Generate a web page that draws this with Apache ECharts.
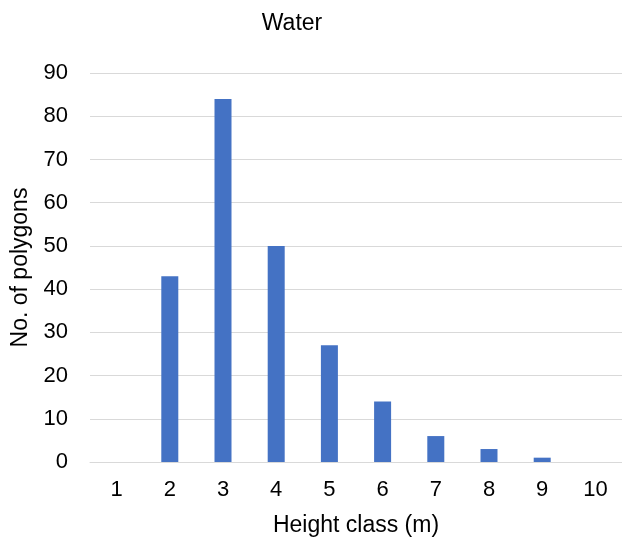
<!DOCTYPE html>
<html>
<head>
<meta charset="utf-8">
<script src="https://cdn.jsdelivr.net/npm/echarts@6/dist/echarts.min.js"></script>
<style>html,body{margin:0;padding:0;background:#fff;}#c{width:622px;height:544px;}</style>
</head>
<body>
<div id="c"></div>
<script>
var categories = ['1','2','3','4','5','6','7','8','9','10'];
var counts = [0, 43, 84, 50, 27, 14, 6, 3, 1, 0];
var chartTitle = 'Water';
var xName = 'Height class (m)';
var yName = 'No. of polygons';

var chart = echarts.init(document.getElementById('c'), null, {renderer: 'canvas'});
var font = 'Liberation Sans, Arial, sans-serif';
chart.setOption({
  animation: false,
  title: {
    text: chartTitle,
    left: 287, top: 7, textAlign: 'center',
    textStyle: {fontFamily: font, fontSize: 23, fontWeight: 'normal', color: '#000'}
  },
  grid: {left: 90, right: -4, top: 73, bottom: 82, containLabel: false},
  xAxis: {
    type: 'category',
    data: categories,
    name: xName,
    nameLocation: 'middle',
    nameGap: 64,
    nameTextStyle: {fontFamily: font, fontSize: 23, color: '#000', verticalAlign: 'middle'},
    axisLine: {show: true, lineStyle: {color: '#d9d9d9', width: 1}},
    axisTick: {show: false},
    axisLabel: {fontFamily: font, fontSize: 22, color: '#000', margin: 17}
  },
  yAxis: {
    type: 'value',
    min: 0, max: 90, interval: 10,
    name: yName,
    nameLocation: 'middle',
    nameGap: 68,
    nameTextStyle: {fontFamily: font, fontSize: 23, color: '#000', verticalAlign: 'middle'},
    axisLine: {show: false},
    axisTick: {show: false},
    axisLabel: {fontFamily: font, fontSize: 22, color: '#000', margin: 22},
    splitLine: {lineStyle: {color: '#d9d9d9', width: 1}}
  },
  series: [{
    type: 'bar',
    data: counts,
    barWidth: 17,
    itemStyle: {color: '#4472C4'}
  }]
});
</script>
</body>
</html>
